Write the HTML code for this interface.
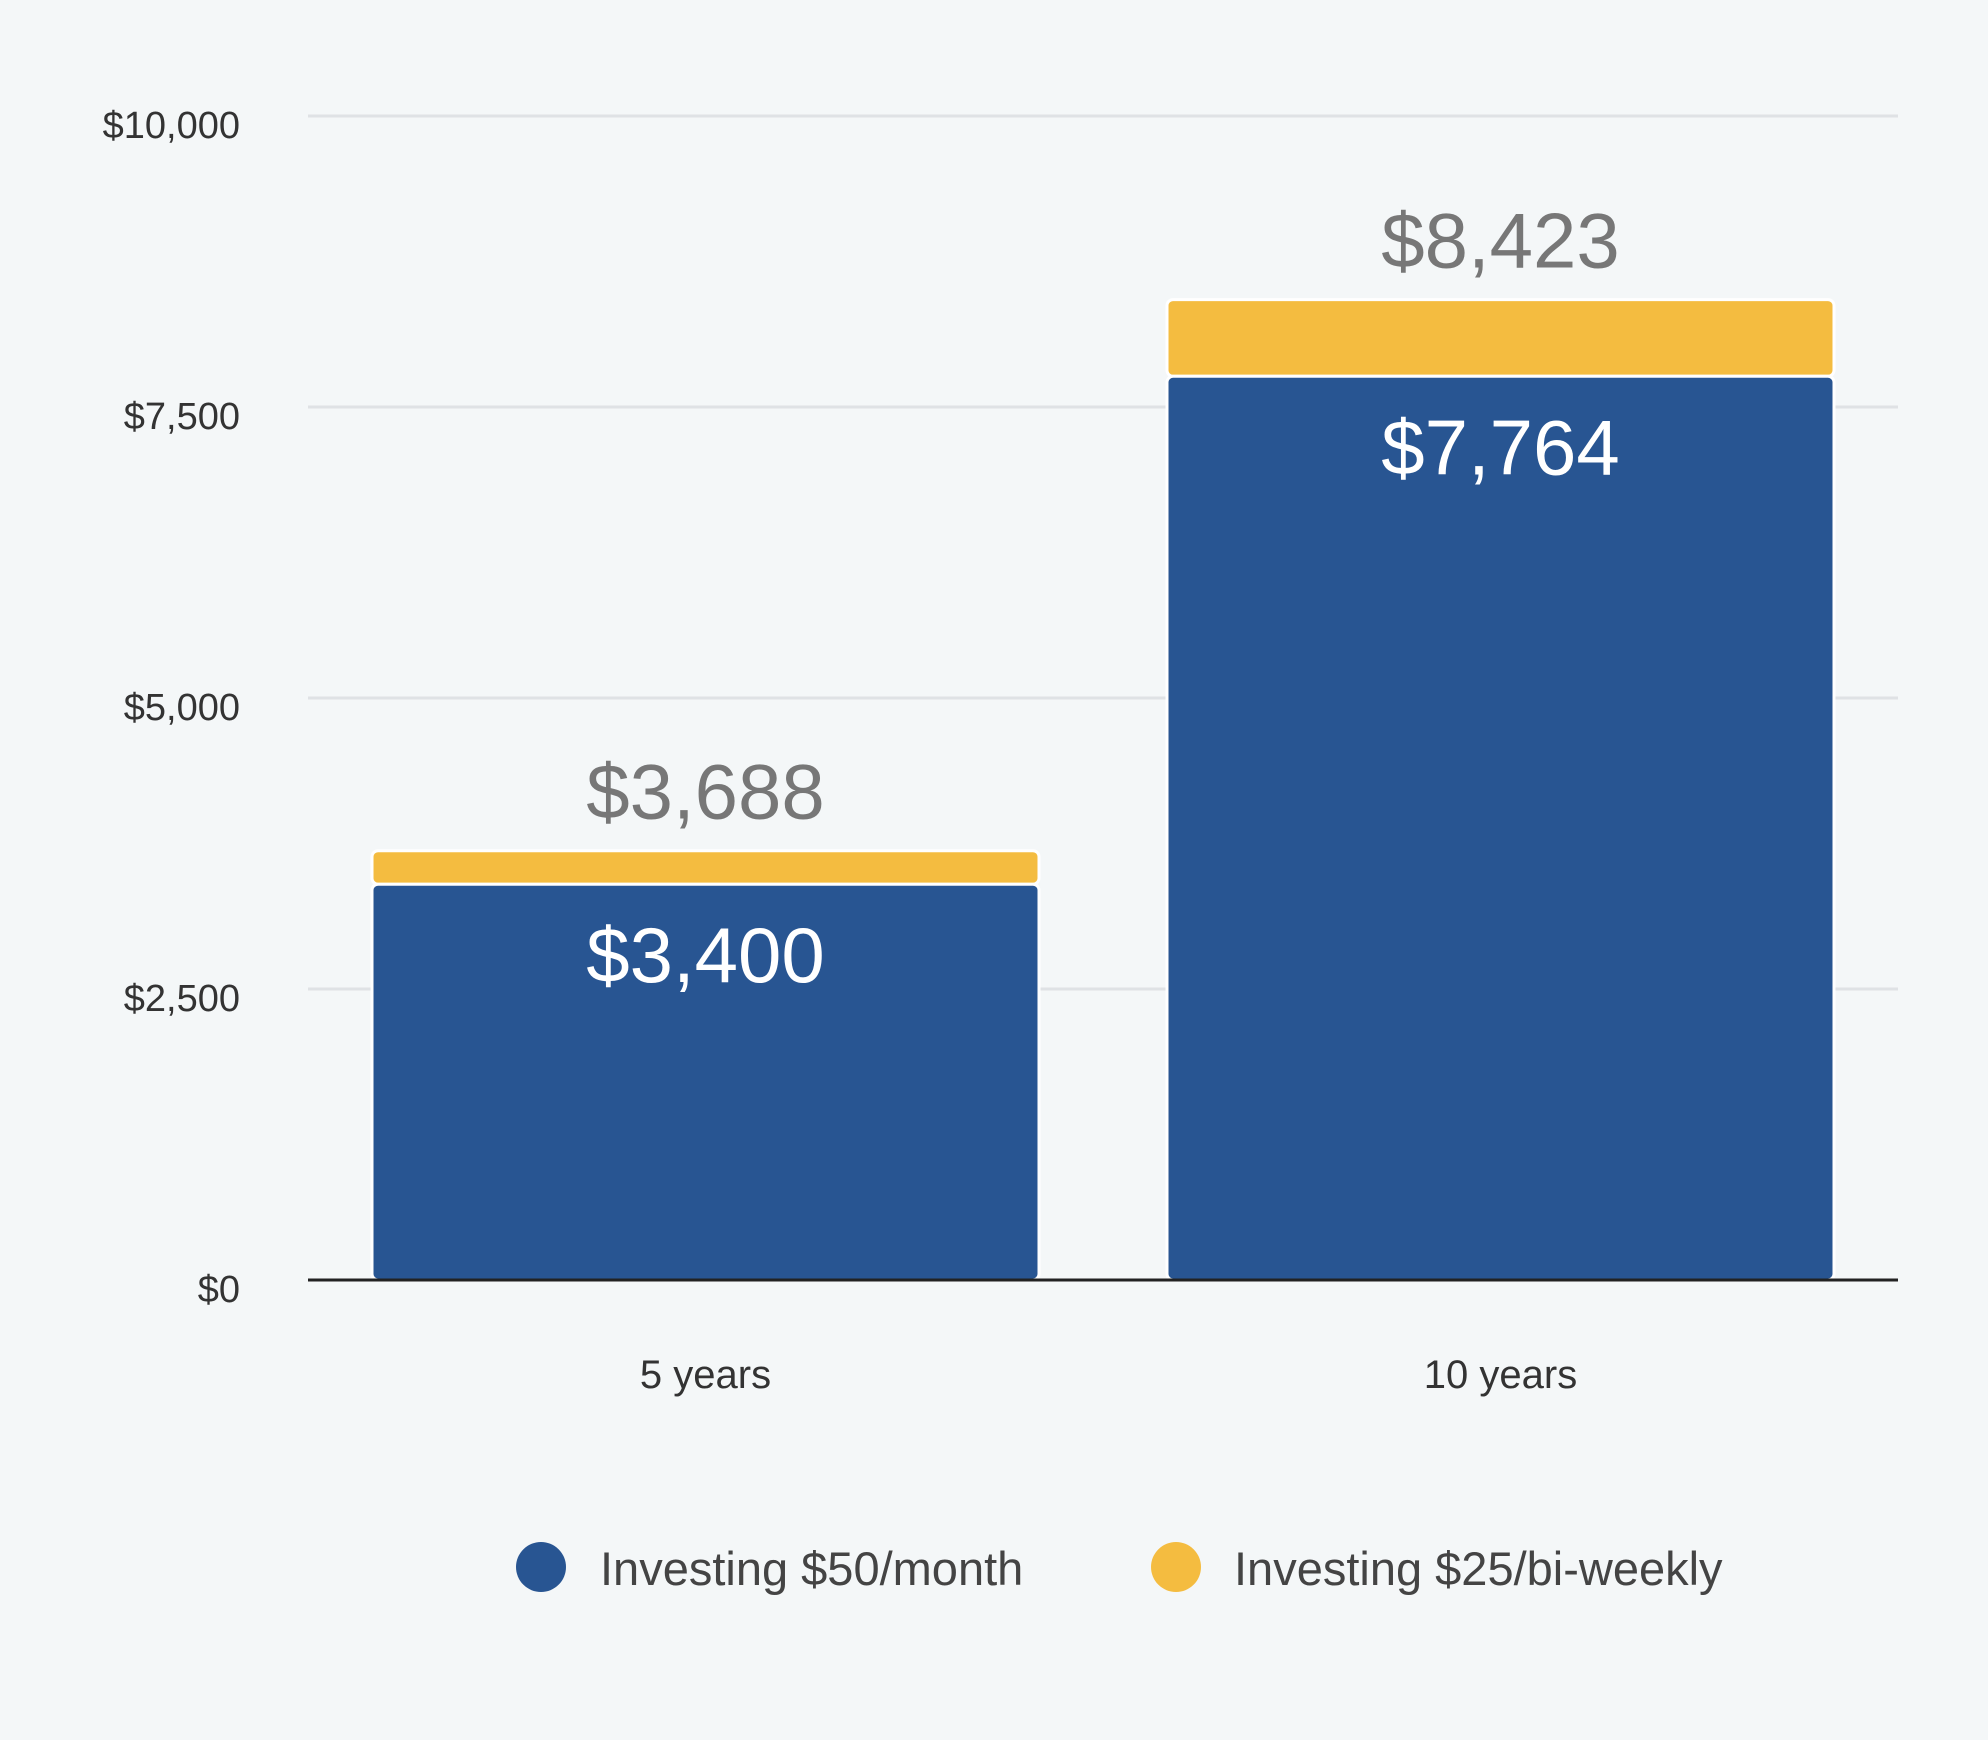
<!DOCTYPE html>
<html><head><meta charset="utf-8"><style>
html,body{margin:0;padding:0;background:#f4f7f8;}
svg{display:block;font-family:"Liberation Sans",sans-serif;}
</style></head><body>
<svg id="chart" width="1988" height="1740" viewBox="0 0 1988 1740" xmlns="http://www.w3.org/2000/svg">
<rect width="1988" height="1740" fill="#f4f7f8"/>
<g id="grid"></g>
<g id="bars"></g>
<g id="labels"></g>
<g>
<circle cx="541" cy="1567" r="25" fill="#285592"/>
<text x="600" y="1585" font-size="47" fill="#444">Investing $50/month</text>
<circle cx="1176" cy="1567" r="25" fill="#f4bc40"/>
<text x="1234" y="1585" font-size="47" fill="#444">Investing $25/bi-weekly</text>
</g>
</svg>
<script>
const categories = ["5 years", "10 years"];
const monthlyValues = [3400, 7764];
const biweeklyExtra = [288, 659];
const totals = [3688, 8423];
const yTicks = [0, 2500, 5000, 7500, 10000];
const yTickLabels = ["$0", "$2,500", "$5,000", "$7,500", "$10,000"];

const NS = "http://www.w3.org/2000/svg";
const plotL = 308, plotR = 1898, y0 = 1280, yTop = 116, yMax = 10000;
const y = v => y0 - (v / yMax) * (y0 - yTop);
const band = (plotR - plotL) / categories.length;
const barW = 667;
const xc = i => plotL + band * (i + 0.5);
const fmt = v => "$" + v.toLocaleString("en-US");
function mk(tag, attrs, parent) {
  const e = document.createElementNS(NS, tag);
  for (const k in attrs) e.setAttribute(k, attrs[k]);
  parent.appendChild(e);
  return e;
}
const grid = document.getElementById("grid");
const bars = document.getElementById("bars");
const labels = document.getElementById("labels");

yTicks.forEach((t, i) => {
  if (t !== 0) {
    const l = mk("line", {x1: plotL, x2: plotR, y1: y(t), y2: y(t), stroke: "#dfe2e5", "stroke-width": 3}, grid);
    
    
  }
  const tx = mk("text", {x: 240, y: y(t) + 22, "text-anchor": "end", "font-size": 38, fill: "#333"}, labels);
  
  
  tx.textContent = yTickLabels[i];
});

categories.forEach((c, i) => {
  const x = xc(i) - barW / 2;
  const top = monthlyValues[i] + biweeklyExtra[i];
  const ry = mk("rect", {x: x, y: y(top), width: barW, height: y(monthlyValues[i]) - y(top), rx: 6, fill: "#f4bc40", stroke: "#fff", "stroke-width": 3}, bars);
  
  
  const rb = mk("rect", {x: x, y: y(monthlyValues[i]), width: barW, height: y0 - y(monthlyValues[i]), rx: 6, fill: "#285592", stroke: "#fff", "stroke-width": 3}, bars);
  
  

  const tl = mk("text", {x: xc(i), y: y(top) - 32, "text-anchor": "middle", "font-size": 78, fill: "#777"}, labels);
  
  
  tl.textContent = fmt(totals[i]);
  const bl = mk("text", {x: xc(i), y: y(monthlyValues[i]) + 98, "text-anchor": "middle", "font-size": 78, fill: "#fff"}, labels);
  
  
  bl.textContent = fmt(monthlyValues[i]);
  const cl = mk("text", {x: xc(i), y: 1388, "text-anchor": "middle", "font-size": 40, fill: "#333"}, labels);
  
  
  cl.textContent = c;
});
const ax = mk("line", {x1: plotL, x2: plotR, y1: y0, y2: y0, stroke: "#222", "stroke-width": 3}, labels);


</script>
</body></html>
